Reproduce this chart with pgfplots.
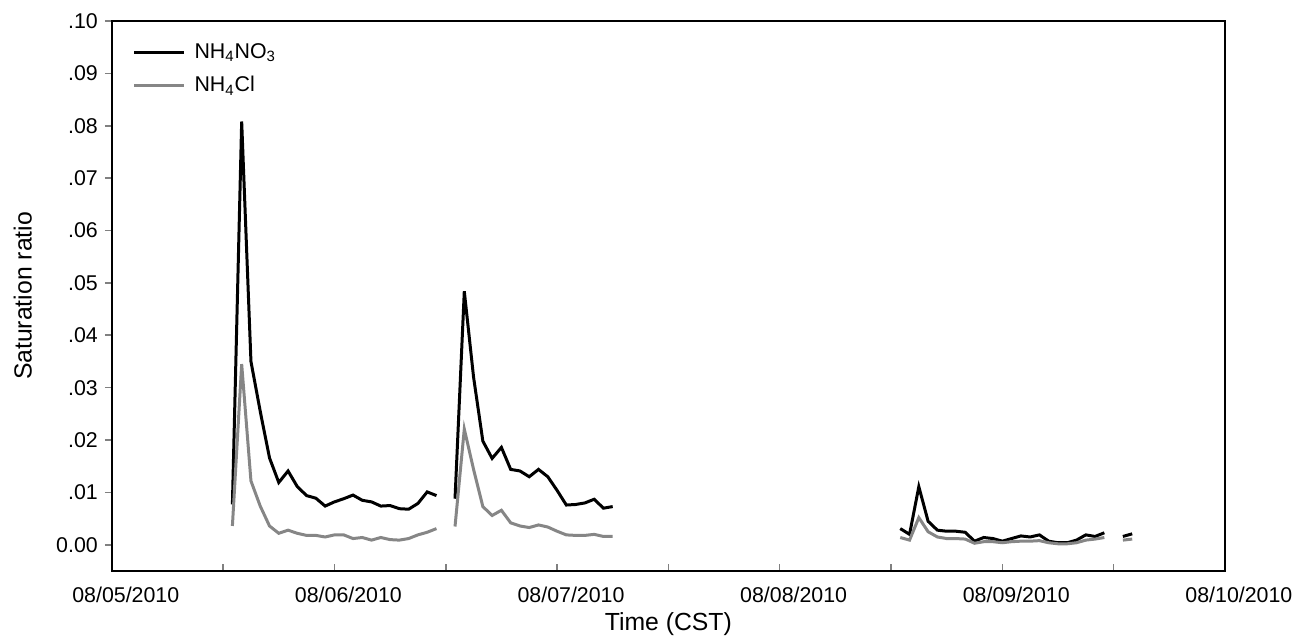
\documentclass[border=0pt]{standalone}
\usepackage{pgfplots}
\pgfplotsset{compat=1.18}
\usepackage{pgfplotstable}
\usepackage{fontspec}
\setmainfont{Liberation Sans}

% x = hours since 08/05/2010 00:00 CST
\pgfplotstableread{
h nitrate chloride
13 0.0077 0.0036
14 0.0808 0.0345
15 0.0350 0.0122
16 0.0255 0.0074
17 0.0166 0.0036
18 0.0119 0.0022
19 0.0141 0.0028
20 0.0111 0.0022
21 0.0094 0.0018
22 0.0089 0.0018
23 0.0074 0.0015
24 0.0082 0.0019
25 0.0088 0.0019
26 0.0095 0.0012
27 0.0085 0.0014
28 0.0082 0.0009
29 0.0074 0.0014
30 0.0075 0.0010
31 0.0069 0.0009
32 0.0068 0.0012
33 0.0079 0.0019
34 0.0101 0.0024
35 0.0094 0.0031
36 nan nan
37 0.0088 0.0035
38 0.0484 0.0221
39 0.0320 0.0144
40 0.0198 0.0073
41 0.0165 0.0056
42 0.0186 0.0066
43 0.0144 0.0042
44 0.0141 0.0036
45 0.0130 0.0033
46 0.0144 0.0038
47 0.0130 0.0034
48 0.0104 0.0026
49 0.0076 0.0019
50 0.0077 0.0018
51 0.0080 0.0018
52 0.0087 0.0020
53 0.0070 0.0016
54 0.0073 0.0016
55 nan nan
85 0.0031 0.0014
86 0.0020 0.0009
87 0.0111 0.0052
88 0.0045 0.0025
89 0.0028 0.0015
90 0.0026 0.0012
91 0.0026 0.0012
92 0.0024 0.0011
93 0.0007 0.0003
94 0.0014 0.0006
95 0.0012 0.0006
96 0.0007 0.0004
97 0.0012 0.0006
98 0.0017 0.0007
99 0.0015 0.0007
100 0.0019 0.0008
101 0.0007 0.0004
102 0.0004 0.0002
103 0.0004 0.0002
104 0.0009 0.0004
105 0.0019 0.0009
106 0.0016 0.0011
107 0.0023 0.0014
108 nan nan
109 0.0016 0.0009
110 0.0021 0.0011
}\satdata

\begin{document}
\begin{tikzpicture}
\begin{axis}[
    scale only axis,
    width=557.5bp,
    height=275.5bp,
    xmin=0, xmax=120,
    ymin=-0.005, ymax=0.1,
    axis line style={line width=1bp},
    xtick={0,12,...,120},
    xticklabels={08/05/2010,,08/06/2010,,08/07/2010,,08/08/2010,,08/09/2010,,08/10/2010},
    ytick={0,0.01,...,0.1},
    yticklabels={0.00,.01,.02,.03,.04,.05,.06,.07,.08,.09,.10},
    xtick pos=bottom, ytick pos=left,
    x tick style={line width=0.8bp}, y tick style={line width=0.8bp},
    xtick align=inside, ytick align=outside,
    major tick length=3.5bp,
    tick label style={font=\fontsize{10.7bp}{12bp}\selectfont},
    xticklabel style={xshift=7bp, yshift=-4.5bp},
    label style={font=\fontsize{12.4bp}{14bp}\selectfont},
    xlabel={Time (CST)},
    ylabel={Saturation ratio},
    xlabel style={at={(axis description cs:0.5,-0.0962)}, anchor=center},
    ylabel style={at={(axis description cs:-0.08,0.5)}, anchor=center},
    unbounded coords=jump,
    legend cell align=left,
    legend style={draw=none, fill=none, at={(axis description cs:0.013,0.974)}, anchor=north west,
        font=\fontsize{10.7bp}{12.8bp}\selectfont, row sep=3.5bp},
    legend image code/.code={\draw[#1] (0bp,0bp) -- (25bp,0bp); \path (27.5bp,0bp);},
]
\addplot[black, line width=1.5bp] table[x=h, y=nitrate] {\satdata};
\addlegendentry{NH\textsubscript{4}NO\textsubscript{3}}
\addplot[gray!95, line width=1.5bp] table[x=h, y=chloride] {\satdata};
\addlegendentry{NH\textsubscript{4}Cl}
\coordinate (ll) at (rel axis cs:0,0);
\coordinate (ur) at (rel axis cs:1,1);
\end{axis}
\path ([shift={(-56bp,-36bp)}]ll) rectangle ([shift={(36bp,10.5bp)}]ur);
\end{tikzpicture}
\end{document}
